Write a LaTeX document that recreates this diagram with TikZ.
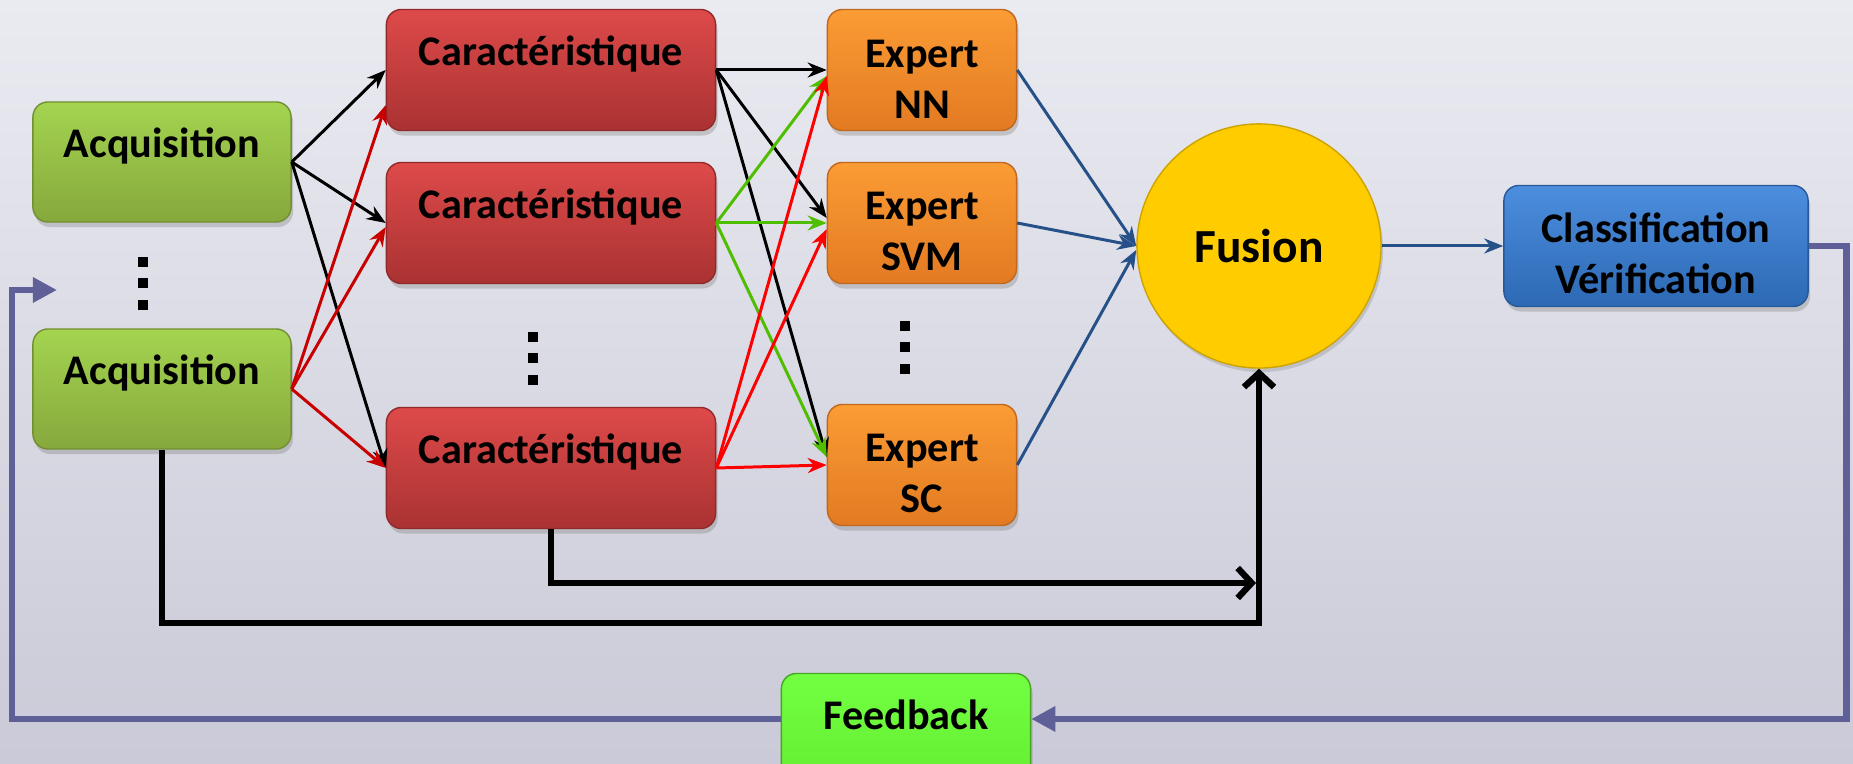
\documentclass[tikz,border=0pt]{standalone}
\usepackage{fontspec}
\setmainfont{Carlito}
\usetikzlibrary{shadows,arrows.meta}

\definecolor{bgtop}{RGB}{234,234,241}
\definecolor{bgbot}{RGB}{202,202,216}
\definecolor{acqtop}{RGB}{164,212,80}
\definecolor{acqbot}{RGB}{134,168,60}
\definecolor{cartop}{RGB}{222,74,74}
\definecolor{carbot}{RGB}{170,50,50}
\definecolor{exptop}{RGB}{251,156,52}
\definecolor{expbot}{RGB}{226,122,34}
\definecolor{fusyel}{RGB}{255,204,0}
\definecolor{clstop}{RGB}{76,142,222}
\definecolor{clsbot}{RGB}{45,105,180}
\definecolor{fbtop}{RGB}{114,255,66}
\definecolor{fbbot}{RGB}{100,236,48}
\definecolor{lnblue}{RGB}{38,80,136}
\definecolor{lngreen}{RGB}{80,190,0}
\definecolor{lndred}{RGB}{200,0,0}
\definecolor{lnloop}{RGB}{96,96,152}

\begin{document}
\begin{tikzpicture}[x=0.01cm, y=-0.01cm,
	box/.style={rounded corners=0.15cm, inner sep=0pt, font=\fontsize{12}{14.5}\selectfont\bfseries,
		drop shadow={opacity=0.35, shadow xshift=0.02cm, shadow yshift=-0.05cm}},
	onerow/.style={text height=0.3cm, text depth=0.39cm},
	tworow/.style={align=center, text height=0.96cm},
	acqbox/.style={box, onerow, minimum width=2.58cm, minimum height=1.2cm, top color=acqtop, bottom color=acqbot, draw=acqbot!85!black},
	carbox/.style={box, onerow, minimum width=3.29cm, minimum height=1.21cm, top color=cartop, bottom color=carbot, draw=carbot!85!black},
	expbox/.style={box, tworow, minimum width=1.89cm, minimum height=1.21cm, top color=exptop, bottom color=expbot, draw=expbot!85!black},
	clsbox/.style={box, tworow, minimum width=3.04cm, minimum height=1.21cm, top color=clstop, bottom color=clsbot, draw=clsbot!85!black},
	fbbox/.style={box, onerow, minimum width=2.49cm, minimum height=1.21cm, top color=fbtop, bottom color=fbbot, draw=fbbot!70!black},
	fusball/.style={circle, minimum size=2.44cm, inner sep=0pt, fill=fusyel, draw=fusyel!80!black,
		font=\fontsize{13.5}{16}\selectfont\bfseries, drop shadow={opacity=0.3, shadow xshift=0.02cm, shadow yshift=-0.04cm}},
	link/.style={line width=0.85pt, -{Stealth[length=0.19cm, width=0.15cm]}},
	fat/.style={line width=1.8pt, -{Straight Barb[length=0.14cm, width=0.3cm]}},
	back/.style={lnloop, line width=1.9pt, -{Triangle[length=0.24cm, width=0.24cm]}}
]
	\useasboundingbox (0,0) rectangle (1853,764) ;
	\clip (0,0) rectangle (1853,764) ;
	\shade [top color=bgtop, bottom color=bgbot] (0,0) rectangle (1853,764) ;

	\draw (162,162) node[acqbox] (acq1) {Acquisition} ;
	\draw (162,389) node[acqbox] (acq2) {Acquisition} ;
	\draw (551,70) node[carbox] (car1) {Caractéristique} ;
	\draw (551,223) node[carbox] (car2) {Caractéristique} ;
	\draw (551,468) node[carbox] (car3) {Caractéristique} ;
	\draw (922,70) node[expbox] (nn) {Expert\\NN} ;
	\draw (922,223) node[expbox] (svm) {Expert\\SVM} ;
	\draw (922,465) node[expbox] (sc) {Expert\\SC} ;
	\draw (1259,246) node[fusball] (fusion) {Fusion} ;
	\draw (1656,246) node[clsbox] (cls) {Classification\\Vérification} ;
	\draw (906,734) node[fbbox] (fb) {Feedback} ;

	\foreach \y in {257,278,300} \fill (138,\y) rectangle ++(10,10) ;
	\foreach \y in {332,353,375} \fill (528,\y) rectangle ++(10,10) ;
	\foreach \y in {321,342,364} \fill (900,\y) rectangle ++(10,10) ;

	\draw [link] (acq1.east) -- (car1.west) ;
	\draw [link] (acq1.east) -- (car2.west) ;
	\draw [link] (acq1.east) -- (car3.west) ;
	\draw [link, lndred] (acq2.east) -- ([yshift=-0.35cm]car1.west) ;
	\draw [link, lndred] (acq2.east) -- ([yshift=-0.04cm]car2.west) ;
	\draw [link, lndred] (acq2.east) -- (car3.west) ;

	\draw [link] (car1.east) -- (nn.west) ;
	\draw [link] (car1.east) -- ([yshift=0.05cm]svm.west) ;
	\draw [link] (car1.east) -- ([yshift=0.08cm]sc.west) ;
	\draw [link, lngreen] (car2.east) -- ([yshift=-0.06cm]nn.west) ;
	\draw [link, lngreen] (car2.east) -- (svm.west) ;
	\draw [link, lngreen] (car2.east) -- ([yshift=0.08cm]sc.west) ;
	\draw [link, red] (car3.east) -- ([yshift=-0.06cm]nn.west) ;
	\draw [link, red] (car3.east) -- ([yshift=-0.06cm]svm.west) ;
	\draw [link, red] (car3.east) -- (sc.west) ;

	\draw [link, lnblue] (nn.east) -- (fusion.west) ;
	\draw [link, lnblue] (svm.east) -- (fusion.west) ;
	\draw [link, lnblue] (sc.east) -- ([yshift=-0.04cm]fusion.west) ;
	\draw [link, lnblue] (fusion.east) -- (cls.west) ;

	\coordinate (mrg) at (1256,583) ;
	\coordinate (crn) at (1259,623) ;
	\draw [fat] (car3.south) |- (mrg) ;
	\draw [fat] (acq2.south) |- (crn) -- (fusion.south) ;

	\coordinate (fbcrn) at (12,290) ;
	\coordinate (fbin) at (57,290) ;
	\draw [back] (cls.east) -- ++(38,0) |- ([yshift=0.15cm]fb.east) ;
	\draw [back] ([yshift=0.15cm]fb.west) -| (fbcrn) -- (fbin) ;
\end{tikzpicture}
\end{document}
